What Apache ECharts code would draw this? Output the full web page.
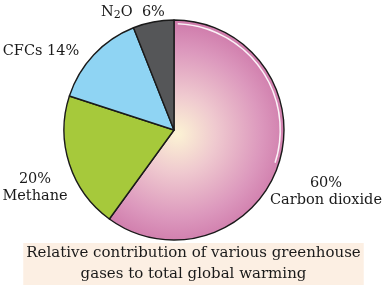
<!DOCTYPE html>
<html><head><meta charset="utf-8">
<script src="https://cdn.jsdelivr.net/npm/echarts@6/dist/echarts.min.js"></script>
<style>html,body{margin:0;padding:0;background:#fff}#c{width:387px;height:288px}</style>
</head><body><div id="c"></div>
<script>
var categories = ['Carbon dioxide', 'Methane', 'CFCs', 'N2O'];
var values = [60, 20, 14, 6];
var captionLines = ['Relative contribution of various greenhouse', 'gases to total global warming'];

var colors = [
  {type:'radial', x:177, y:134, r:112, global:true,
   colorStops:[{offset:0,color:'#fcf3d4'},{offset:0.35,color:'#efc9cf'},{offset:0.75,color:'#dc98bd'},{offset:1,color:'#cf7bab'}]},
  '#a6c93b', '#8fd4f3', '#555658'
];
var labelPos = [
  {x:326, y:192},
  {x:35, y:188},
  {x:41, y:51},
  {x:133, y:12}
];
function fmt(p){
  var i = p.dataIndex;
  if (i === 0 || i === 1) return p.value + '%\n' + p.name;
  if (i === 2) return p.name + ' ' + p.value + '%';
  return 'N{sub|2}O  ' + p.value + '%';
}
var chart = echarts.init(document.getElementById('c'), null, {renderer:'canvas'});
chart.setOption({
  animation:false,
  title:{
    text: captionLines.join('\n'),
    left: 'center', top: 243, padding:[0,3],
    backgroundColor:'#fcefe3',
    textStyle:{fontFamily:'DejaVu Serif', fontSize:15, fontWeight:'normal', color:'#1a1a1a', lineHeight:21}
  },
  series:[{
    type:'pie',
    center:[174,130],
    radius:110,
    startAngle:90,
    clockwise:true,
    itemStyle:{borderColor:'#1a1a1a', borderWidth:1.4},
    label:{show:true, position:'outside', formatter:fmt, fontFamily:'DejaVu Serif', fontSize:14.5, color:'#1a1a1a', lineHeight:17, align:'center', overflow:'none', width:200,
      rich:{sub:{fontFamily:'DejaVu Serif', fontSize:11, verticalAlign:'bottom', padding:[6,0,0,0], color:'#1a1a1a'}}},
    labelLine:{show:false},
    labelLayout:function(p){
      var L = labelPos[p.dataIndex];
      return {x:L.x, y:L.y, align:'center', verticalAlign:'middle'};
    },
    data: categories.map(function(c,i){return {name:c, value:values[i], itemStyle:{color:colors[i]}};})
  },{
    type:'pie', center:[174,130], radius:[105.5,107], startAngle:88, endAngle:-18, clockwise:true, silent:true,
    label:{show:false}, labelLine:{show:false}, itemStyle:{borderWidth:0},
    data:[{name:'highlight', value:1, itemStyle:{color:'rgba(255,255,255,0.9)'}}]
  }]
});
</script></body></html>
